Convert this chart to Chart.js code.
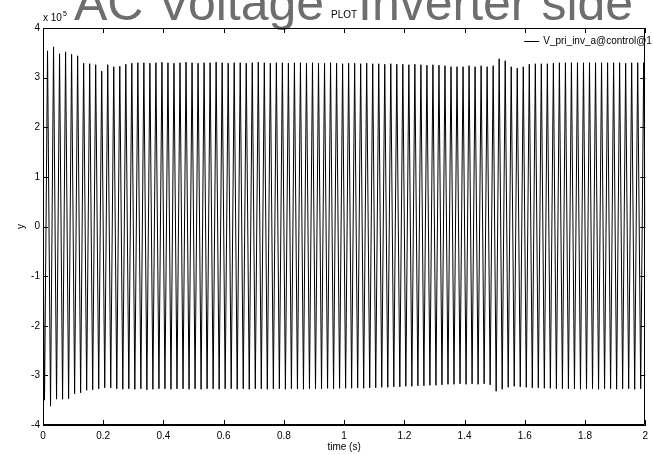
<!DOCTYPE html>
<html>
<head>
<meta charset="utf-8">
<script src="https://cdn.jsdelivr.net/npm/chart.js@4.4.0/dist/chart.umd.min.js"></script>
<style>
  html, body { margin: 0; padding: 0; background: #fff; }
  canvas { display: block; }
</style>
</head>
<body>
<canvas id="plot" width="653" height="455"></canvas>
<script>
// V_pri_inv_a, in units of 1e5 V, one extreme every half period of the 50 Hz wave
const halfPeriod = 0.01;
const seriesName = 'V_pri_inv_a@control@1';
const headingParts = ['AC Voltage', 'Inverter side'];

const peakVals = [
    3.54, 3.62, 3.48, 3.52, 3.47, 3.44, 3.29, 3.28, 3.26, 3.13,
    3.26, 3.22, 3.23, 3.27, 3.29, 3.30, 3.30, 3.29, 3.30, 3.31,
    3.30, 3.29, 3.30, 3.31, 3.30, 3.29, 3.30, 3.30, 3.31, 3.30,
    3.29, 3.30, 3.30, 3.29, 3.30, 3.31, 3.30, 3.29, 3.30, 3.30,
    3.29, 3.30, 3.30, 3.29, 3.30, 3.29, 3.29, 3.30, 3.29, 3.28,
    3.29, 3.29, 3.28, 3.29, 3.28, 3.28, 3.27, 3.28, 3.27, 3.27,
    3.26, 3.27, 3.26, 3.25, 3.26, 3.25, 3.24, 3.22, 3.22, 3.22,
    3.24, 3.22, 3.24, 3.22, 3.24, 3.38, 3.34, 3.22, 3.19, 3.22,
    3.27, 3.28, 3.28, 3.28, 3.29, 3.30, 3.30, 3.30, 3.30, 3.30,
    3.30, 3.30, 3.30, 3.30, 3.30, 3.30, 3.29, 3.30, 3.30, 3.30
];

const troughVals = [
    -3.50, -3.62, -3.48, -3.48, -3.47, -3.37, -3.35, -3.30, -3.29, -3.27,
    -3.25, -3.25, -3.27, -3.28, -3.27, -3.28, -3.27, -3.29, -3.28, -3.27,
    -3.27, -3.28, -3.27, -3.27, -3.28, -3.27, -3.28, -3.27, -3.27, -3.28,
    -3.27, -3.27, -3.28, -3.27, -3.28, -3.27, -3.27, -3.28, -3.27, -3.27,
    -3.28, -3.27, -3.27, -3.28, -3.27, -3.27, -3.27, -3.26, -3.27, -3.26,
    -3.26, -3.26, -3.25, -3.26, -3.25, -3.25, -3.24, -3.24, -3.23, -3.23,
    -3.22, -3.22, -3.21, -3.21, -3.20, -3.20, -3.19, -3.18, -3.18, -3.17,
    -3.18, -3.17, -3.18, -3.17, -3.19, -3.32, -3.28, -3.24, -3.22, -3.23,
    -3.24, -3.25, -3.25, -3.26, -3.26, -3.27, -3.27, -3.27, -3.27, -3.28,
    -3.27, -3.27, -3.28, -3.27, -3.27, -3.28, -3.27, -3.27, -3.28, -3.27
];

const xTicks = [0, 0.2, 0.4, 0.6, 0.8, 1, 1.2, 1.4, 1.6, 1.8, 2];
const yTicks = [-4, -3, -2, -1, 0, 1, 2, 3, 4];

// wave starts and ends at zero, trough then peak in each cycle
const points = [{ x: 0, y: 0 }];
for (let k = 0; k < peakVals.length; k++) {
    points.push({ x: (4 * k + 1) * halfPeriod / 2, y: troughVals[k] });
    points.push({ x: (4 * k + 3) * halfPeriod / 2, y: peakVals[k] });
}
points.push({ x: xTicks[xTicks.length - 1], y: 0 });

const FONT = '"Liberation Sans", Arial, sans-serif';

// box round the axes, inward tick marks, legend and the headings
const decorations = {
    id: 'decorations',
    afterDatasetsDraw(chart) {
        const { ctx, chartArea: a, scales } = chart;
        const tick = 5;
        ctx.save();

        // large page heading, cut by the top of the page
        ctx.font = '50px ' + FONT;
        ctx.textAlign = 'left';
        ctx.textBaseline = 'alphabetic';
        ctx.fillStyle = '#6e6e6e';
        ctx.fillText(headingParts[0], 74, 20);
        ctx.fillText(headingParts[1], 358, 20);

        ctx.strokeStyle = '#000';
        ctx.lineWidth = 1;
        ctx.beginPath();
        ctx.rect(Math.round(a.left) + 0.5, Math.round(a.top) + 0.5,
                 Math.round(a.right - a.left) - 1, Math.round(a.bottom - a.top) - 1);
        xTicks.forEach(v => {
            const x = Math.round(scales.x.getPixelForValue(v)) + 0.5;
            ctx.moveTo(x, a.bottom); ctx.lineTo(x, a.bottom - tick);
            ctx.moveTo(x, a.top); ctx.lineTo(x, a.top + tick);
        });
        yTicks.forEach(v => {
            const y = Math.round(scales.y.getPixelForValue(v)) + 0.5;
            ctx.moveTo(a.left, y); ctx.lineTo(a.left + tick, y);
            ctx.moveTo(a.right, y); ctx.lineTo(a.right - tick, y);
        });
        ctx.stroke();

        // legend, running past the right edge
        const ly = Math.round(a.top + 13) + 0.5;
        ctx.beginPath();
        ctx.moveTo(a.right - 121, ly);
        ctx.lineTo(a.right - 106, ly);
        ctx.stroke();
        ctx.fillStyle = '#000';
        ctx.font = '10px ' + FONT;
        ctx.textBaseline = 'middle';
        ctx.fillText(seriesName, a.right - 102, ly);

        // exponent label above the y axis
        ctx.textBaseline = 'alphabetic';
        ctx.fillText('x 10', a.left, a.top - 7);
        ctx.font = '7px ' + FONT;
        ctx.fillText('5', a.left + 20, a.top - 12);

        // small axes title
        ctx.font = '10px ' + FONT;
        ctx.textAlign = 'center';
        ctx.fillText('PLOT', (a.left + a.right) / 2, a.top - 10);
        ctx.restore();
    }
};

const ctx = document.getElementById('plot').getContext('2d');
new Chart(ctx, {
    type: 'line',
    data: {
        datasets: [{
            label: seriesName,
            data: points,
            borderColor: '#000',
            borderWidth: 1,
            pointRadius: 0,
            tension: 0,
            fill: false
        }]
    },
    options: {
        responsive: false,
        animation: false,
        devicePixelRatio: 1,
        layout: { padding: { top: 28, right: 5, left: 0, bottom: 0 } },
        plugins: {
            legend: { display: false },
            title: { display: false },
            tooltip: { enabled: false }
        },
        scales: {
            x: {
                type: 'linear',
                min: 0,
                max: 2,
                afterBuildTicks: s => { s.ticks = xTicks.map(v => ({ value: v })); },
                afterFit: s => { s.height = 30; },
                grid: { drawOnChartArea: false, drawTicks: false },
                border: { color: '#000', width: 1 },
                ticks: {
                    color: '#000',
                    padding: 5,
                    maxRotation: 0,
                    font: { family: FONT, size: 10 },
                    callback: v => String(+v.toFixed(1))
                },
                title: {
                    display: true,
                    text: 'time (s)',
                    color: '#000',
                    font: { family: FONT, size: 10 },
                    padding: { top: 0, bottom: 2 }
                }
            },
            y: {
                min: -4,
                max: 4,
                afterBuildTicks: s => { s.ticks = yTicks.map(v => ({ value: v })); },
                afterFit: s => { s.width = 43; },
                grid: { drawOnChartArea: false, drawTicks: false },
                border: { color: '#000', width: 1 },
                ticks: {
                    color: '#000',
                    padding: 3,
                    font: { family: FONT, size: 10 },
                    callback: v => String(v)
                },
                title: {
                    display: true,
                    text: 'y',
                    color: '#000',
                    font: { family: FONT, size: 10 },
                    padding: { top: 15, bottom: 0 }
                }
            }
        }
    },
    plugins: [decorations]
});
</script>
</body>
</html>
